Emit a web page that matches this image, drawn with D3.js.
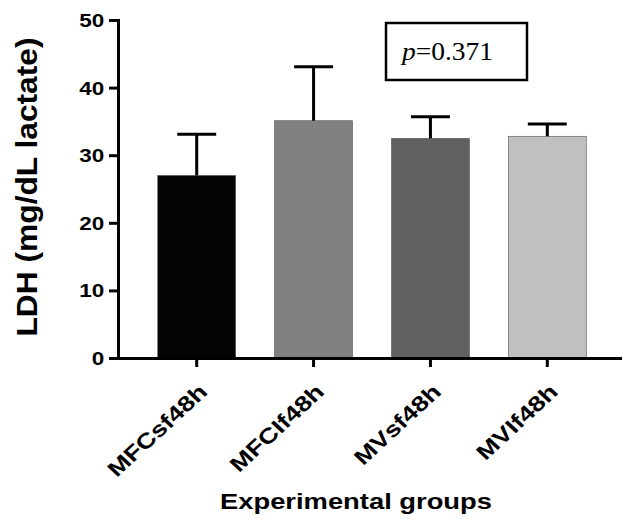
<!DOCTYPE html>
<html>
<head>
<meta charset="utf-8">
<script src="https://cdn.jsdelivr.net/npm/d3@7"></script>
<style>
  body { margin: 0; background: #fff; }
  svg { display: block; font-family: "Liberation Sans", Arial, sans-serif; }
</style>
</head>
<body>
<svg id="chart"></svg>
<script>
const groups = ['MFCsf48h', 'MFCIf48h', 'MVsf48h', 'MVIf48h'];
const means = [27.0, 35.1, 32.5, 32.8];
const errors = [6.1, 8.0, 3.2, 1.8];
const barColors = ['#050505', '#808080', '#606060', '#c0c0c0'];
const yTicks = [0, 10, 20, 30, 40, 50];
const pLabel = '0.371';

const width = 622;
const height = 519;
// the original figure's text is drawn wider than Arial
const stretch = 1.25;

const svg = d3.select('#chart')
  .attr('width', width)
  .attr('height', height);

const x = d3.scaleBand()
  .domain(groups)
  .range([118, 626])
  .paddingInner(0.333)
  .paddingOuter(0.34);

const y = d3.scaleLinear()
  .domain([0, 50])
  .range([358, 20]);

// bars
svg.selectAll('rect.bar')
  .data(groups)
  .enter()
  .append('rect')
  .attr('class', 'bar')
  .attr('x', d => x(d))
  .attr('y', (d, i) => y(means[i]))
  .attr('width', x.bandwidth())
  .attr('height', (d, i) => y(0) - y(means[i]))
  .attr('fill', (d, i) => barColors[i])
  .attr('stroke', '#555')
  .attr('stroke-width', 0.6);

// error bars (upper only)
const err = svg.append('g')
  .attr('stroke', '#000')
  .attr('stroke-width', 3);

groups.forEach((g, i) => {
  const cx = x(g) + x.bandwidth() / 2;
  const capW = x.bandwidth() / 4;
  err.append('line')
    .attr('x1', cx).attr('x2', cx)
    .attr('y1', y(means[i])).attr('y2', y(means[i] + errors[i]));
  err.append('line')
    .attr('x1', cx - capW).attr('x2', cx + capW)
    .attr('y1', y(means[i] + errors[i])).attr('y2', y(means[i] + errors[i]));
});

// y axis
const yAxis = svg.append('g')
  .attr('transform', 'translate(118,0)')
  .call(d3.axisLeft(y).tickValues(yTicks).tickSize(9).tickPadding(2));

yAxis.select('.domain').attr('stroke-width', 3);
yAxis.selectAll('.tick line').attr('stroke-width', 3);
yAxis.selectAll('.tick text')
  .attr('font-size', 18)
  .attr('font-weight', 'bold')
  .attr('font-family', '"Liberation Sans", Arial, sans-serif')
  .attr('fill', '#000')
  .attr('dy', '0.36em')
  .attr('transform', `scale(${stretch},1)`);

// x axis
const xAxis = svg.append('g')
  .attr('transform', 'translate(0,358)')
  .call(d3.axisBottom(x).tickSize(9).tickSizeOuter(0));

xAxis.select('.domain').attr('stroke-width', 3);
xAxis.selectAll('.tick line').attr('stroke-width', 3);
xAxis.selectAll('.tick text')
  .attr('font-size', 21)
  .attr('font-weight', 'bold')
  .attr('font-family', '"Liberation Sans", Arial, sans-serif')
  .attr('fill', '#000')
  .attr('text-anchor', 'end')
  .attr('x', 0)
  .attr('y', 0)
  .attr('dy', null)
  .attr('transform', 'translate(12,35) scale(1.08,1) rotate(-45)')
  .each(function () {
    const w = this.getComputedTextLength();
    d3.select(this)
      .attr('textLength', w * 1.2)
      .attr('lengthAdjust', 'spacingAndGlyphs');
  });

// axis titles
svg.append('text')
  .attr('transform', 'translate(37,187) rotate(-90)')
  .attr('text-anchor', 'middle')
  .attr('font-size', 30)
  .attr('font-weight', 'bold')
  .attr('textLength', 299)
  .attr('lengthAdjust', 'spacingAndGlyphs')
  .text('LDH (mg/dL lactate)');

svg.append('text')
  .attr('x', 356)
  .attr('y', 509)
  .attr('text-anchor', 'middle')
  .attr('font-size', 22)
  .attr('font-weight', 'bold')
  .attr('textLength', 272)
  .attr('lengthAdjust', 'spacingAndGlyphs')
  .text('Experimental groups');

// p value box
svg.append('rect')
  .attr('x', 386)
  .attr('y', 23)
  .attr('width', 141)
  .attr('height', 57)
  .attr('fill', '#fff')
  .attr('stroke', '#000')
  .attr('stroke-width', 2.5);

const pt = svg.append('text')
  .attr('x', 402)
  .attr('y', 60)
  .attr('font-family', '"Liberation Serif", "Times New Roman", serif')
  .attr('font-size', 25)
  .attr('textLength', 91)
  .attr('lengthAdjust', 'spacingAndGlyphs');
pt.append('tspan').attr('font-style', 'italic').text('p');
pt.append('tspan').text('=' + pLabel);
</script>
</body>
</html>
